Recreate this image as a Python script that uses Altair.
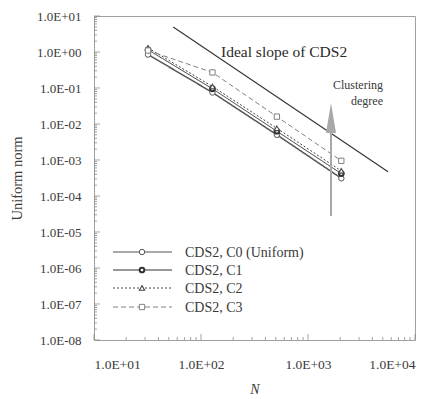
import altair as alt
import pandas as pd

# ---------------- data ----------------
N = [32, 128, 512, 2048]
series_names = ["CDS2, C0 (Uniform)", "CDS2, C1", "CDS2, C2", "CDS2, C3"]
C0 = [0.85, 0.075, 0.0050, 0.00031]
C1 = [1.15, 0.095, 0.0063, 0.00042]
C2 = [1.30, 0.110, 0.0076, 0.00050]
C3 = [1.10, 0.270, 0.0160, 0.00095]
series_values = [C0, C1, C2, C3]

slope_N = [55, 5600]
slope_val = [4.95, 4.7e-4]

x_major = [10, 100, 1000, 10000]
y_major = [1e-8, 1e-7, 1e-6, 1e-5, 1e-4, 1e-3, 1e-2, 1e-1, 1e0, 1e1]

FONT = "Liberation Serif, Times New Roman, serif"
TXT = "#3a3a3a"
W, H = 321, 324

styles = [
    dict(color="#555555", dash=[1, 0], sw=1.5, shape="circle", size=30, psw=1.0),
    dict(color="#333333", dash=[1, 0], sw=1.0, shape="circle", size=22, psw=2.0),
    dict(color="#444444", dash=[2, 2], sw=1.0, shape="triangle-up", size=28, psw=1.1),
    dict(color="#808080", dash=[5, 3], sw=1.0, shape="square", size=28, psw=1.0),
]

label_expr = ("'1.0E' + (round(log(datum.value)/LN10) < 0 ? '-' : '+') + "
              "(abs(round(log(datum.value)/LN10)) < 10 ? '0' : '') + "
              "abs(round(log(datum.value)/LN10))")

xscale = alt.Scale(type="log", domain=[10, 10000], nice=False)
yscale = alt.Scale(type="log", domain=[1e-8, 10], nice=False)

x_axis = alt.Axis(values=x_major, labelExpr=label_expr, ticks=False, domain=False, grid=False,
                  labelFont=FONT, labelFontSize=13.5, labelColor=TXT, labelPadding=17,
                  title="N", titleFont=FONT, titleFontStyle="italic", titleFontWeight="normal",
                  titleFontSize=14, titleColor=TXT, titlePadding=12)
y_axis = alt.Axis(values=y_major, labelExpr=label_expr, ticks=False, domain=False, grid=False,
                  labelFont=FONT, labelFontSize=13, labelColor=TXT, labelPadding=13,
                  title="Uniform norm", titleFont=FONT, titleFontWeight="normal",
                  titleFontSize=14.5, titleColor=TXT, titlePadding=12)


def X(field):
    return alt.X(field, type="quantitative", scale=xscale, axis=x_axis)


def Y(field):
    return alt.Y(field, type="quantitative", scale=yscale, axis=y_axis)


layers = []

# minor / major inward ticks
x_minor = [m * 10 ** e for e in range(1, 4) for m in range(2, 10)]
y_minor = [m * 10 ** e for e in range(-8, 1) for m in range(2, 10)]
tick_col = "#8a8a8a"
layers.append(alt.Chart(pd.DataFrame({"v": x_minor})).mark_rule(color=tick_col, strokeWidth=0.8).encode(
    x=X("v"), y=alt.value(H), y2=alt.value(H - 3)))
layers.append(alt.Chart(pd.DataFrame({"v": x_major})).mark_rule(color=tick_col, strokeWidth=0.8).encode(
    x=X("v"), y=alt.value(H), y2=alt.value(H - 6)))
layers.append(alt.Chart(pd.DataFrame({"v": y_minor})).mark_rule(color=tick_col, strokeWidth=0.8).encode(
    y=Y("v"), x=alt.value(0), x2=alt.value(3)))
layers.append(alt.Chart(pd.DataFrame({"v": y_major})).mark_rule(color=tick_col, strokeWidth=0.8).encode(
    y=Y("v"), x=alt.value(0), x2=alt.value(6)))

# ideal slope line
slope_df = pd.DataFrame({"N": slope_N, "v": slope_val})
layers.append(alt.Chart(slope_df).mark_line(color="#333333", strokeWidth=1.1).encode(x=X("N"), y=Y("v")))

# data series
for name, vals, st in zip(series_names, series_values, styles):
    df = pd.DataFrame({"N": N, "v": vals, "s": name})
    base = alt.Chart(df)
    layers.append(base.mark_line(color=st["color"], strokeWidth=st["sw"], strokeDash=st["dash"]).encode(
        x=X("N"), y=Y("v")))
    layers.append(base.mark_point(shape=st["shape"], size=st["size"], filled=False, fill="white",
                                  fillOpacity=1, color=st["color"], strokeWidth=st["psw"], opacity=1).encode(
        x=X("N"), y=Y("v")))

# legend (manual)
leg_y = [236, 254, 272, 291]
for i, (name, st) in enumerate(zip(series_names, styles)):
    ldf = pd.DataFrame({"label": [name]})
    lb = alt.Chart(ldf)
    layers.append(lb.mark_rule(color=st["color"], strokeWidth=min(st["sw"], 1.2), strokeDash=st["dash"]).encode(
        x=alt.value(19), x2=alt.value(78), y=alt.value(leg_y[i])))
    layers.append(lb.mark_point(shape=st["shape"], size=st["size"], filled=False, fill="white", fillOpacity=1,
                                color=st["color"], strokeWidth=st["psw"], opacity=1).encode(
        x=alt.value(48), y=alt.value(leg_y[i])))
    layers.append(lb.mark_text(align="left", baseline="middle", font=FONT, fontSize=14, color=TXT).encode(
        text="label:N", x=alt.value(91), y=alt.value(leg_y[i] + 1)))

# annotations
ann_slope = pd.DataFrame({"t": ["Ideal slope of CDS2"]})
layers.append(alt.Chart(ann_slope).mark_text(align="left", baseline="middle", font=FONT, fontSize=15.5,
                                             color="#2a2a2a").encode(
    text="t:N", x=alt.value(127), y=alt.value(36)))

ann_cl = pd.DataFrame({"t": ["Clustering", "degree"], "dy": [69, 85]})
layers.append(alt.Chart(ann_cl).mark_text(align="right", baseline="middle", font=FONT, fontSize=12,
                                          color=TXT).encode(
    text="t:N", x=alt.value(289), y=alt.Y("dy:Q", scale=None)))

arrow_df = pd.DataFrame({"t": ["arrow"]})
layers.append(alt.Chart(arrow_df).mark_rule(color="#a8a8a8", strokeWidth=2).encode(
    x=alt.value(237), y=alt.value(200), y2=alt.value(110)))
layers.append(alt.Chart(arrow_df).mark_point(shape="M0,-1.5L0.5,1.5L-0.5,1.5Z", size=400, filled=True,
                                             color="#a8a8a8", opacity=1).encode(
    x=alt.value(237), y=alt.value(102)))

chart = alt.layer(*layers).properties(
    width=W, height=H,
    autosize=alt.AutoSizeParams(type="none"),
    padding={"left": 94, "top": 16, "right": 26, "bottom": 59},
    background="#ffffff",
).configure_view(stroke="#a0a0a0", strokeWidth=1)

chart.save("out.html", embed_options={"renderer": "svg", "actions": False})
